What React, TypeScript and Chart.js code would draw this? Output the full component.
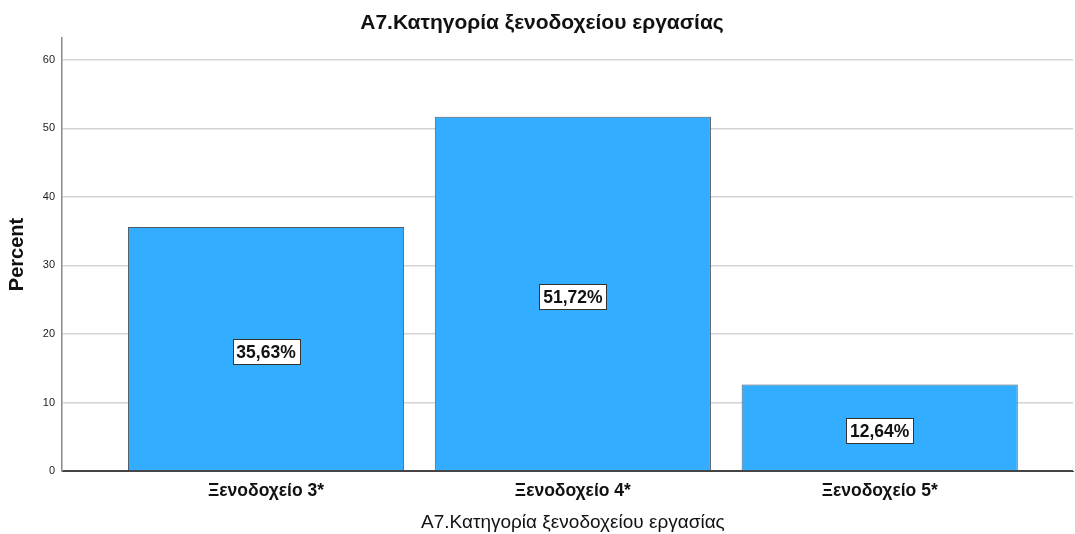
import React, { useEffect, useRef } from "react";
import { Chart, registerables } from "chart.js";

Chart.register(...registerables);

const titleText = "A7.Κατηγορία ξενοδοχείου εργασίας";
const xTitleText = "A7.Κατηγορία ξενοδοχείου εργασίας";
const categories = ["Ξενοδοχείο 3*", "Ξενοδοχείο 4*", "Ξενοδοχείο 5*"];
const percents = [35.63, 51.72, 12.64];
const yTicks = [0, 10, 20, 30, 40, 50, 60];

const FONT = "'Liberation Sans', Arial, sans-serif";

const labelPlugin = {
  id: "barLabels",
  afterDatasetsDraw(chart: any) {
    const ctx = chart.ctx;
    const meta = chart.getDatasetMeta(0);
    ctx.save();
    ctx.font = `bold 17.5px ${FONT}`;
    ctx.textAlign = "center";
    ctx.textBaseline = "middle";
    meta.data.forEach((el: any, i: number) => {
      const txt = percents[i].toFixed(2).replace(".", ",") + "%";
      const cx = el.x;
      const cy = (el.y + el.base) / 2 + 3;
      const w = Math.round(ctx.measureText(txt).width + 8);
      const h = 25;
      const x0 = Math.round(cx - w / 2);
      const y0 = Math.round(cy - h / 2);
      ctx.fillStyle = "#ffffff";
      ctx.fillRect(x0, y0, w, h);
      ctx.strokeStyle = "#333333";
      ctx.lineWidth = 1;
      ctx.strokeRect(x0 + 0.5, y0 + 0.5, w, h);
      ctx.fillStyle = "#111111";
      ctx.fillText(txt, cx, cy + 1.5);
    });
    ctx.restore();
  },
  afterDraw(chart: any) {
    const ctx = chart.ctx;
    ctx.save();
    ctx.fillStyle = "#111111";
    ctx.textAlign = "center";
    ctx.textBaseline = "middle";
    ctx.font = `bold 21px ${FONT}`;
    ctx.fillText(titleText, 542, 23);
    ctx.font = `19px ${FONT}`;
    const xc = chart.scales.x.getPixelForValue(1);
    ctx.fillText(xTitleText, xc, 523);
    ctx.restore();
  },
};

export default function App() {
  const ref = useRef<HTMLCanvasElement | null>(null);
  useEffect(() => {
    document.body.style.margin = "0";
    const canvas = ref.current!;
    const chart = new Chart(canvas, {
      type: "bar",
      data: {
        datasets: [
          {
            data: percents.map((v, i) => ({ x: i, y: v })),
            backgroundColor: "#33adff",
            borderColor: "#4d5a66",
            borderWidth: 1,
            barPercentage: 0.9,
            categoryPercentage: 1,
          },
        ],
      },
      options: {
        animation: false,
        responsive: false,
        maintainAspectRatio: false,
        layout: { padding: { left: 5, right: 2, top: 38, bottom: 0 } },
        plugins: {
          legend: { display: false },
          tooltip: { enabled: false },
          title: { display: false },
        },
        scales: {
          x: {
            type: "linear",
            offset: false,
            min: -0.665,
            max: 2.63,
            afterBuildTicks: (scale: any) => {
              scale.ticks = categories.map((_, i) => ({ value: i }));
            },
            afterFit: (scale: any) => {
              scale.height = 63;
            },
            ticks: {
              callback: (v: any) => categories[Math.round(v)] ?? "",
              color: "#111111",
              font: { family: FONT, size: 17.5, weight: "bold" },
              padding: 10,
              maxRotation: 0,
              autoSkip: false,
            },
            grid: { display: false, drawTicks: false, offset: false },
            border: { display: true, color: "#444444", width: 1 },
            title: { display: false },
          },
          y: {
            min: 0,
            max: 63.2,
            afterBuildTicks: (scale: any) => {
              scale.ticks = yTicks.map((v) => ({ value: v }));
            },
            afterFit: (scale: any) => {
              scale.width = 57;
            },
            ticks: {
              color: "#222222",
              font: { family: FONT, size: 11 },
              padding: 7,
            },
            grid: {
              color: (c: any) => (c.tick && c.tick.value === 0 ? "#444444" : "#d4d4d4"),
              lineWidth: 1.5,
              drawTicks: false,
            },
            border: { display: true, color: "#888888", width: 1.5 },
            title: {
              display: true,
              text: "Percent",
              color: "#111111",
              font: { family: FONT, size: 20, weight: "bold" },
              padding: { top: 0, bottom: 0 },
            },
          },
        },
      } as any,
      plugins: [labelPlugin],
    });
    return () => chart.destroy();
  }, []);
  return (
    <div style={{ width: 1075, height: 534, background: "#ffffff" }}>
      <canvas ref={ref} width={1075} height={534} style={{ display: "block" }} />
    </div>
  );
}
